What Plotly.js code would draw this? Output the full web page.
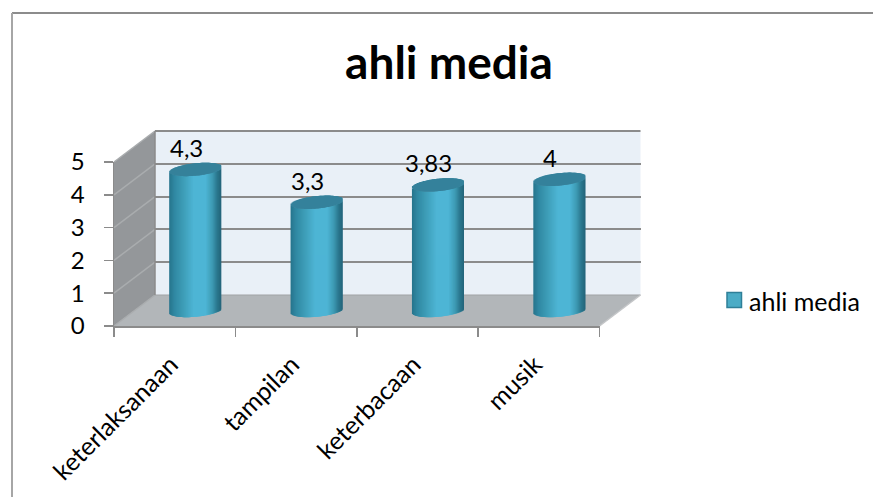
<!DOCTYPE html>
<html><head><meta charset="utf-8">
<script src="https://cdn.plot.ly/plotly-3.0.1.min.js"></script>
<style>html,body{margin:0;padding:0;background:#fff}#c{width:873px;height:497px}</style>
</head><body><div id="c"></div>
<script>
var categories = ['keterlaksanaan','tampilan','keterbacaan','musik'];
var values = [4.3,3.3,3.83,4];
var valueLabels = ['4,3','3,3','3,83','4'];
var seriesName = 'ahli media';
var yTicks = [0,1,2,3,4,5];

var W=873,H=497, X0=114,X1=599.5,Y0=326,Y5=162, DX=41,DY=31, LABELSHIFT=4;
var GRID='#8b8b8b', FONT='Lato, Carlito, "Open Sans", sans-serif';
function px(x){return x/W;} function py(y){return 1-y/H;}
function dx(a,b){return [px(a),px(b)];}
var unitX=(X1-X0)/categories.length, unitY=(Y0-Y5)/5;

// cylinder geometry in px, converted to axis units
var R=26, TILT=2.5, B=6.2, STRIP=1, BELOW=0.5;
var stops=[[-1,[38,116,140]],[-0.8,[48,136,162]],[-0.45,[62,158,184]],[-0.05,[78,181,213]],[0.4,[78,181,213]],[0.65,[62,155,181]],[0.85,[42,118,141]],[1,[36,100,122]]];
function col(u){for(var i=1;i<stops.length;i++){if(u<=stops[i][0]){var a=stops[i-1],b=stops[i],t=(u-a[0])/(b[0]-a[0]);
  return 'rgb('+a[1].map(function(c,k){return Math.round(c+(b[1][k]-c)*t);}).join(',')+')';}}return 'rgb(36,100,122)';}

var traces=[], caps=[];
traces.push({x:categories,y:values,xaxis:'x',yaxis:'y',mode:'none',type:'scatter',showlegend:false,hoverinfo:'skip'});
traces.push({x:categories,y:values,xaxis:'x4',yaxis:'y',mode:'none',type:'scatter',showlegend:false,hoverinfo:'skip'});
traces.push({x:categories,y:values,xaxis:'x2',yaxis:'y2',mode:'none',type:'scatter',showlegend:false,hoverinfo:'skip'});
for(var p=-R;p<R;p+=STRIP){
  var u=(p+STRIP/2)/R, arc=Math.sqrt(Math.max(0,1-u*u))*B, t=TILT*u;
  var lower=(t-arc)/unitY, upper=(t+arc)/unitY, wpx=Math.min(STRIP+1.5,R-p);
  traces.push({type:'bar',x:categories,y:values,base:values.map(function(){return lower;}),
    xaxis:'x3',yaxis:'y3',width:wpx/unitX,offset:p/unitX,cliponaxis:false,
    marker:{color:col(u),line:{width:0}},showlegend:false,hoverinfo:'skip',name:seriesName});
  caps.push({type:'bar',x:categories,y:values.map(function(){return upper-lower;}),
    base:values.map(function(v){return v+lower;}),xaxis:'x3',yaxis:'y3',width:wpx/unitX,offset:p/unitX,cliponaxis:false,
    marker:{color:'#35829b',line:{width:0}},showlegend:false,hoverinfo:'skip',name:seriesName});
}
traces=traces.concat(caps);

var shapes=[];
function poly(pts,fill){var d=pts.map(function(q,i){return (i?'L':'M')+px(q[0])+','+py(q[1]);}).join('')+'Z';
  shapes.push({type:'path',xref:'paper',yref:'paper',path:d,fillcolor:fill,line:{color:'rgba(0,0,0,0)',width:0},layer:'below'});}
function seg(a,b,c,d,color,w){shapes.push({type:'line',xref:'paper',yref:'paper',x0:px(a),y0:py(b),x1:px(c),y1:py(d),line:{color:color,width:w},layer:'below'});}
poly([[X0+DX,Y5-DY],[X1+DX,Y5-DY],[X1+DX,Y0-DY],[X0+DX,Y0-DY]],'#e9f0f7');
poly([[X0,Y0],[X0+DX,Y0-DY],[X0+DX,Y5-DY],[X0,Y5]],'#94979a');
poly([[X0,Y0],[X0+DX,Y0-DY],[X1+DX,Y0-DY],[X1,Y0]],'#b2b6b9');
yTicks.forEach(function(v){var y=Y0-v*unitY; seg(X0,y,X0+DX,y-DY,'#a9acae',1.5);});
seg(X0+DX,Y5-DY,X1+DX,Y5-DY,GRID,2);
seg(X0+DX,Y0-DY,X1+DX,Y0-DY,'#a0a3a5',1);
seg(X0+DX,Y5-DY,X0+DX,Y0-DY,GRID,1.5);
seg(X1,Y0,X1+DX,Y0-DY,'#c4c6c8',1.5);
seg(12,13,W,13,'#8c8c8c',2); seg(12,13,12,H,'#a6a6a6',2);
shapes.push({type:'rect',xref:'paper',yref:'paper',x0:px(727),x1:px(741.5),y0:py(292.5),y1:py(307.5),fillcolor:'#4bacc6',line:{color:'#2f7f98',width:1.5},layer:'above'});

var annotations=valueLabels.map(function(t,i){return {xref:'x3',yref:'y3',x:categories[i],y:values[i],text:t,showarrow:false,
  xshift:-9,yshift:22,font:{family:FONT,size:24,color:'#000'}};});
annotations.push({xref:'paper',yref:'paper',x:px(747),y:py(301),xanchor:'left',yanchor:'middle',text:seriesName,showarrow:false,font:{family:FONT,size:25,color:'#000'}});

function catAxis(a,b,extra){var o={type:'category',categoryorder:'array',categoryarray:categories,range:[-0.5,categories.length-0.5],domain:dx(a,b),fixedrange:true,showgrid:false,zeroline:false,showline:false,showticklabels:false,ticks:''};
  for(var k in extra)o[k]=extra[k];return o;}
function valAxis(a,b,extra){var o={range:[0,5],domain:[py(a),py(b)],fixedrange:true,showgrid:false,zeroline:false,showline:false,showticklabels:false,ticks:'',tickvals:yTicks};
  for(var k in extra)o[k]=extra[k];return o;}

var layout={width:W,height:H,margin:{l:0,r:0,t:0,b:0,pad:0},paper_bgcolor:'#fff',plot_bgcolor:'rgba(0,0,0,0)',showlegend:false,barmode:'overlay',
  title:{text:seriesName,x:449/W,xanchor:'center',y:py(63),yanchor:'middle',font:{family:FONT,size:46,color:'#000',weight:700}},
  font:{family:FONT,color:'#000'},
  xaxis:catAxis(X0,X1,{anchor:'y',showline:true,linecolor:GRID,linewidth:2,ticks:'outside',ticklen:9,tickwidth:1.5,tickcolor:GRID,tickson:'boundaries'}),
  xaxis4:catAxis(X0-LABELSHIFT,X1-LABELSHIFT,{anchor:'y',showticklabels:true,tickangle:-45,ticklabelstandoff:18,tickfont:{family:FONT,size:25,color:'#000'}}),
  yaxis:valAxis(Y0,Y5,{anchor:'x',showline:true,linecolor:GRID,linewidth:1.5,showticklabels:true,ticks:'outside',ticklen:9,tickwidth:1.5,tickcolor:GRID,ticklabelstandoff:14,tickfont:{family:FONT,size:24,color:'#000'}}),
  xaxis2:catAxis(X0+DX,X1+DX,{anchor:'y2'}),
  yaxis2:valAxis(Y0-DY,Y5-DY,{anchor:'x2',showgrid:true,gridcolor:GRID,gridwidth:2}),
  xaxis3:catAxis(X0+DX/2,X1+DX/2,{anchor:'y3'}),
  yaxis3:valAxis(Y0-DY/2+BELOW*unitY,Y5-DY/2,{anchor:'x3',range:[-BELOW,5]}),
  shapes:shapes,annotations:annotations};
Plotly.newPlot('c',traces,layout,{displayModeBar:false,staticPlot:true});
</script></body></html>
